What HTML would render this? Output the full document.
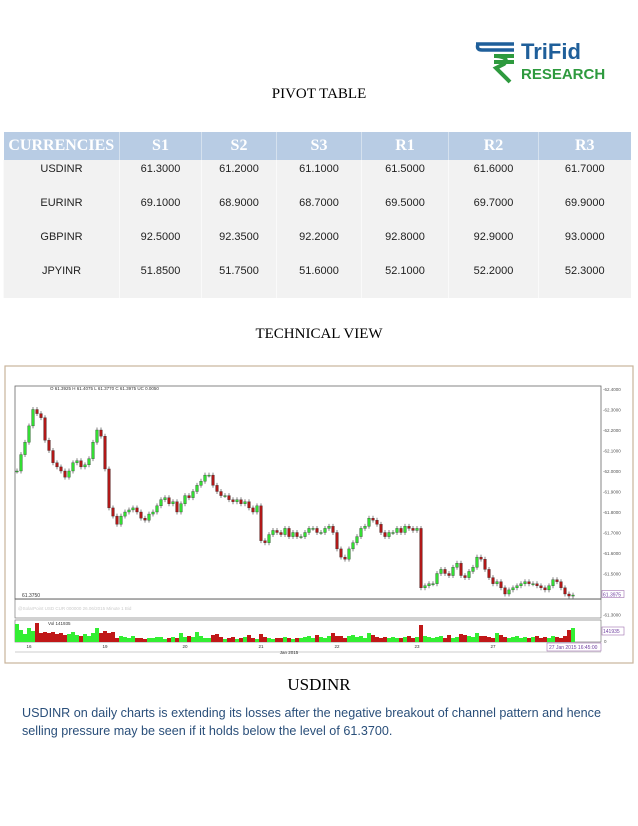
<!DOCTYPE html>
<html><head><meta charset="utf-8"><style>
body{margin:0;width:638px;height:826px;background:#fff;position:relative;overflow:hidden;font-family:"Liberation Sans",sans-serif}
.abs{position:absolute}
table{border-collapse:collapse;position:absolute;left:3px;top:132px;width:627px;table-layout:fixed}
th{background:#b8cce4;color:#fff;font-family:"Liberation Serif",serif;font-weight:bold;font-size:16px;height:28px;padding:0;border-left:1px solid #d5e1ee}
td{background:#f2f2f2;font-size:11px;text-align:center;height:31px;padding:3px 0 0 0;vertical-align:top;border-left:1px solid #fafafa;color:#222}
</style></head><body>
<div class="abs" style="left:474px;top:36px;width:140px;height:50px">
<svg width="140" height="50">
<path d="M2 8 H40 M8 14 H40" stroke="#1f5f9a" stroke-width="3.5" fill="none"/>
<path d="M4 8 Q2 14 8 14" stroke="#1f5f9a" stroke-width="3.5" fill="none"/>
<path d="M20 20 H40 M20 26 H40 M22 20 Q36 21 30 28 L22 32 L36 46" stroke="#2e9a3e" stroke-width="4" fill="none"/>
<text x="47" y="23" font-family="Liberation Sans" font-weight="bold" font-size="22" fill="#1f5f9a">TriFid</text>
<text x="47" y="43" font-family="Liberation Sans" font-weight="bold" font-size="15" fill="#2e9a3e">RESEARCH</text>
</svg></div>
<div class="abs" style="left:0;width:638px;top:86px;text-align:center;font-family:'Liberation Serif',serif;font-size:15px">PIVOT TABLE</div>
<table>
<colgroup><col style="width:116px"><col style="width:82px"><col style="width:75px"><col style="width:85px"><col style="width:87px"><col style="width:90px"><col style="width:92px"></colgroup>
<tr><th style="border-left:none">CURRENCIES</th><th>S1</th><th>S2</th><th>S3</th><th>R1</th><th>R2</th><th>R3</th></tr>
<tr><td>USDINR</td><td>61.3000</td><td>61.2000</td><td>61.1000</td><td>61.5000</td><td>61.6000</td><td>61.7000</td></tr>
<tr><td>EURINR</td><td>69.1000</td><td>68.9000</td><td>68.7000</td><td>69.5000</td><td>69.7000</td><td>69.9000</td></tr>
<tr><td>GBPINR</td><td>92.5000</td><td>92.3500</td><td>92.2000</td><td>92.8000</td><td>92.9000</td><td>93.0000</td></tr>
<tr><td>JPYINR</td><td>51.8500</td><td>51.7500</td><td>51.6000</td><td>52.1000</td><td>52.2000</td><td>52.3000</td></tr>
<tr><td style="height:2px;padding:0"></td><td style="height:2px;padding:0"></td><td style="height:2px;padding:0"></td><td style="height:2px;padding:0"></td><td style="height:2px;padding:0"></td><td style="height:2px;padding:0"></td><td style="height:2px;padding:0"></td></tr>
</table>
<div class="abs" style="left:0;width:638px;top:326px;text-align:center;font-family:'Liberation Serif',serif;font-size:15px">TECHNICAL VIEW</div>
<svg class="abs" id="chart" style="left:0;top:0" width="638" height="826"></svg>
<div class="abs" style="left:0;width:638px;top:675px;text-align:center;font-family:'Liberation Serif',serif;font-size:17px">USDINR</div>
<div class="abs" style="left:22px;top:704px;width:600px;color:#2a4f7a;font-size:12.6px;line-height:18px">USDINR on daily charts is extending its losses after the negative breakout of channel pattern and hence selling pressure may be seen if it holds below the level of 61.3700.</div>
<script>
const closes=[62.00,62.08,62.14,62.22,62.30,62.28,62.26,62.15,62.10,62.04,62.02,62.00,61.97,62.00,62.04,62.05,62.02,62.03,62.06,62.14,62.20,62.17,62.01,
61.82,61.78,61.74,61.78,61.80,61.81,61.82,61.80,61.77,61.76,61.79,61.80,61.83,61.86,61.87,61.84,61.85,61.80,61.84,61.88,61.87,61.90,61.93,61.95,61.98,61.98,61.93,61.90,61.88,61.88,61.86,61.85,61.86,61.84,61.85,61.82,61.80,61.83,61.66,61.65,61.69,61.71,61.70,61.69,61.72,61.68,61.70,61.68,61.68,61.70,61.72,61.72,61.70,61.70,61.72,61.73,61.70,61.62,61.58,61.57,61.62,61.65,61.68,61.72,61.73,61.77,61.76,61.74,61.70,61.68,61.70,61.70,61.72,61.70,61.73,61.72,61.71,61.72,
61.43,61.44,61.45,61.45,61.50,61.52,61.50,61.49,61.53,61.55,61.49,61.48,61.51,61.53,61.58,61.57,61.52,61.48,61.45,61.46,61.43,61.40,61.42,61.43,61.44,61.45,61.46,61.45,61.45,61.44,61.43,61.42,61.44,61.47,61.46,61.43,61.40,61.39,61.395];
const firstOpen=62.00;
const volumes=[90,60,40,70,55,95,45,50,45,50,40,45,35,40,50,35,30,40,30,45,70,45,55,
45,50,20,30,25,20,30,20,20,15,20,20,25,25,15,20,25,20,45,25,30,25,50,30,20,20,35,40,25,15,20,25,15,20,25,35,20,15,40,25,20,15,20,20,25,20,15,20,20,25,30,20,35,25,20,30,45,30,30,20,30,35,25,30,20,45,35,25,20,25,20,25,20,20,25,30,20,25,
85,30,25,20,25,30,20,35,20,25,40,35,30,25,45,30,30,25,20,45,35,25,20,25,30,20,25,20,25,30,20,25,20,30,25,20,30,60,70];
const yTicks=[62.4,62.3,62.2,62.1,62.0,61.9,61.8,61.7,61.6,61.5,61.3];
const xTickLabels=["16","19","20","21","22","23","27"];
const xTickSlots=[3,22,42,61,80,100,119];
const NS="http://www.w3.org/2000/svg";
const svg=document.getElementById('chart');
function mk(t,a,txt){const e=document.createElementNS(NS,t);for(const k in a)e.setAttribute(k,a[k]);if(txt!==undefined)e.textContent=txt;svg.appendChild(e);return e;}
const L=15,R=601,slotW=4;
function X(i){return 17+i*slotW;}
function Y(p){return 389+(62.4-p)*205;}
const volMax=100;
function VY(v){return 642-v/volMax*20;}
let e;
e=mk('rect',{x:5,y:366,width:628,height:297,fill:'#fff',stroke:'#c9b39b','stroke-width':1.2});

e=mk('rect',{x:L,y:386,width:R-L,height:213,fill:'#fff',stroke:'#666','stroke-width':0.8});

e=mk('rect',{x:L,y:599,width:R-L,height:19,fill:'#fff',stroke:'#666','stroke-width':0.6});

e=mk('text',{x:18,y:610,'font-size':4.5,fill:'#ccc'},'@SolarPoint USD CUR 000000 26.06/2015 Minute 1 Bid');

e=mk('rect',{x:L,y:620,width:R-L,height:22,fill:'#fff',stroke:'#666','stroke-width':0.6});

e=mk('line',{x1:L,y1:652,x2:R,y2:652,stroke:'#999','stroke-width':0.6});
e=mk('text',{x:50,y:390,'font-size':4.5,fill:'#333'},'O 61.3925  H 61.4075  L 61.3770  C 61.3975  UC 0.0050');

e=mk('text',{x:22,y:597,'font-size':5,fill:'#333'},'61.3750');

e=mk('text',{x:48,y:625,'font-size':4.5,fill:'#333'},'Vol 141935');

yTicks.forEach(p=>{const t=mk('text',{x:603,y:Y(p)+2,'font-size':4.5,fill:'#555'},'-'+p.toFixed(4));
});
e=mk('rect',{x:602,y:Y(61.3975)-4,width:22,height:7,fill:'#fff',stroke:'#a070b0','stroke-width':0.6});
e=mk('text',{x:603,y:Y(61.3975)+2,'font-size':5,fill:'#7040a0'},'61.3975');

e=mk('rect',{x:602,y:627,width:22,height:8,fill:'#fff',stroke:'#a070b0','stroke-width':0.6});
e=mk('text',{x:603,y:633,'font-size':5,fill:'#7040a0'},'141935');

e=mk('text',{x:604,y:643,'font-size':4.5,fill:'#555'},'0');
xTickSlots.forEach((s,k)=>{const t=mk('text',{x:X(s),y:648,'font-size':4.5,fill:'#333','text-anchor':'middle'},xTickLabels[k]);
});
e=mk('text',{x:289,y:654,'font-size':4.5,fill:'#333','text-anchor':'middle'},'Jan 2015');

e=mk('rect',{x:547,y:643,width:54,height:8,fill:'#fff',stroke:'#a070b0','stroke-width':0.6});
e=mk('text',{x:549,y:649,'font-size':5,fill:'#7040a0'},'27 Jan 2015 16:45:00');

e=mk('line',{x1:L,y1:Y(61.375),x2:R,y2:Y(61.375),stroke:'#555','stroke-width':0.8});
closes.forEach((c,i)=>{
 const o=i===0?firstOpen:closes[i-1];
 const up=c>=o;const col=up?'#33dd33':'#b01818';
 const hi=Math.max(o,c)+0.012,lo=Math.min(o,c)-0.012;
 const w=mk('line',{x1:X(i),y1:Y(hi),x2:X(i),y2:Y(lo),stroke:'#333','stroke-width':0.6});
 
 const top=Y(Math.max(o,c)),h=Math.max(1,Math.abs(Y(o)-Y(c)));
 const b=mk('rect',{x:X(i)-1.4,y:top,width:2.8,height:h,fill:col,stroke:'#222','stroke-width':0.3});
 
 const vcol=up?'#33ee33':'#c01818';
 const v=mk('rect',{x:X(i)-2,y:VY(volumes[i]),width:4,height:642-VY(volumes[i]),fill:vcol});
 
});
</script>
</body></html>
